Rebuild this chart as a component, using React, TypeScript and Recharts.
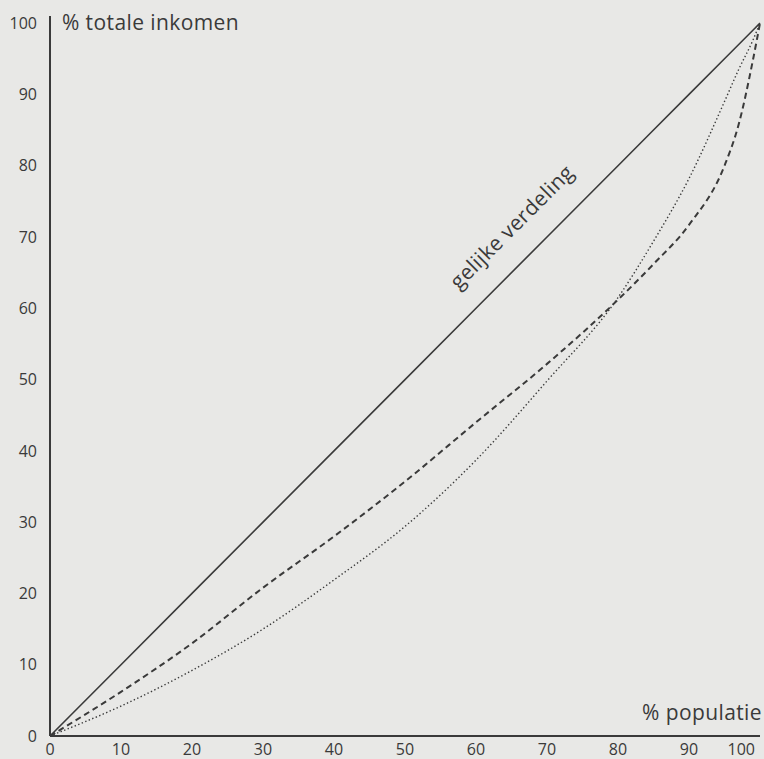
import React from 'react';
import { LineChart, Line, XAxis, YAxis, Customized } from 'recharts';

// cumulative share of population (x) vs cumulative share of income (y)
const populatie = [0, 10, 20, 30, 40, 50, 60, 70, 80, 85, 90, 95, 97, 99, 100];
const gelijk = [0, 10, 20, 30, 40, 50, 60, 70, 80, 85, 90, 95, 97, 99, 100];
const curveA = [0, 6.2, 13, 20.8, 28, 35.7, 44, 52.2, 61.2, 66.2, 71.7, 80, 85.8, 94.8, 100];
const curveB = [0, 4.2, 9.2, 15, 21.9, 29.4, 38.7, 49.8, 61.5, 69.4, 78.2, 89, 93.5, 97.6, 100];

const xTicks = [0, 10, 20, 30, 40, 50, 60, 70, 80, 90, 100];
const yTicks = [0, 10, 20, 30, 40, 50, 60, 70, 80, 90, 100];

const data = populatie.map((x, i) => ({
  x,
  gelijk: gelijk[i],
  a: curveA[i],
  b: curveB[i],
}));

const INK = '#3a3a3a';
const FONT = '"Open Sans", sans-serif';

const XTick = (props: any) => {
  const { x, y, payload } = props;
  const last = payload.value === 100;
  return (
    <text
      x={last ? x + 3 : x}
      y={y}
      dy="0.71em"
      textAnchor={last ? 'end' : 'middle'}
      fill={INK}
      fontSize={16}
      fontFamily={FONT}
    >
      {payload.value}
    </text>
  );
};

const Labels = () => (
  <g fontFamily={FONT} fill={INK}>
    <text x={62} y={30} fontSize={21} letterSpacing={0.4}>% totale inkomen</text>
    <text x={762} y={720} fontSize={21} letterSpacing={0.4} textAnchor="end">% populatie</text>
    <text
      x={0}
      y={0}
      fontSize={21}
      letterSpacing={0.4}
      textAnchor="middle"
      transform="translate(517,232) rotate(-45)"
    >
      gelijke verdeling
    </text>
  </g>
);

export default function App() {
  return (
    <div style={{ position: 'absolute', left: 0, top: 0, width: 764, height: 759, background: '#e8e8e6' }}>
      <LineChart width={764} height={759} data={data} margin={{ top: 16, right: 4, bottom: 0, left: 0 }}>
        <XAxis
          dataKey="x"
          type="number"
          domain={[0, 100]}
          ticks={xTicks}
          tickLine={false}
          tickSize={0}
          tickMargin={8}
          height={23}
          axisLine={{ stroke: INK, strokeWidth: 2 }}
          tick={<XTick />}
        />
        <YAxis
          type="number"
          domain={[0, 101]}
          ticks={yTicks}
          tickLine={false}
          tickSize={0}
          tickMargin={13}
          width={50}
          axisLine={{ stroke: INK, strokeWidth: 2 }}
          tick={{ fill: INK, fontSize: 16, fontFamily: FONT }}
        />
        <Line dataKey="gelijk" type="linear" stroke={INK} strokeWidth={1.6} dot={false} isAnimationActive={false} />
        <Line dataKey="a" type="monotone" stroke={INK} strokeWidth={2} strokeDasharray="6 4" dot={false} isAnimationActive={false} />
        <Line dataKey="b" type="monotone" stroke={INK} strokeWidth={1.4} strokeDasharray="1.4 2.4" dot={false} isAnimationActive={false} />
        <Customized component={Labels} />
      </LineChart>
    </div>
  );
}
